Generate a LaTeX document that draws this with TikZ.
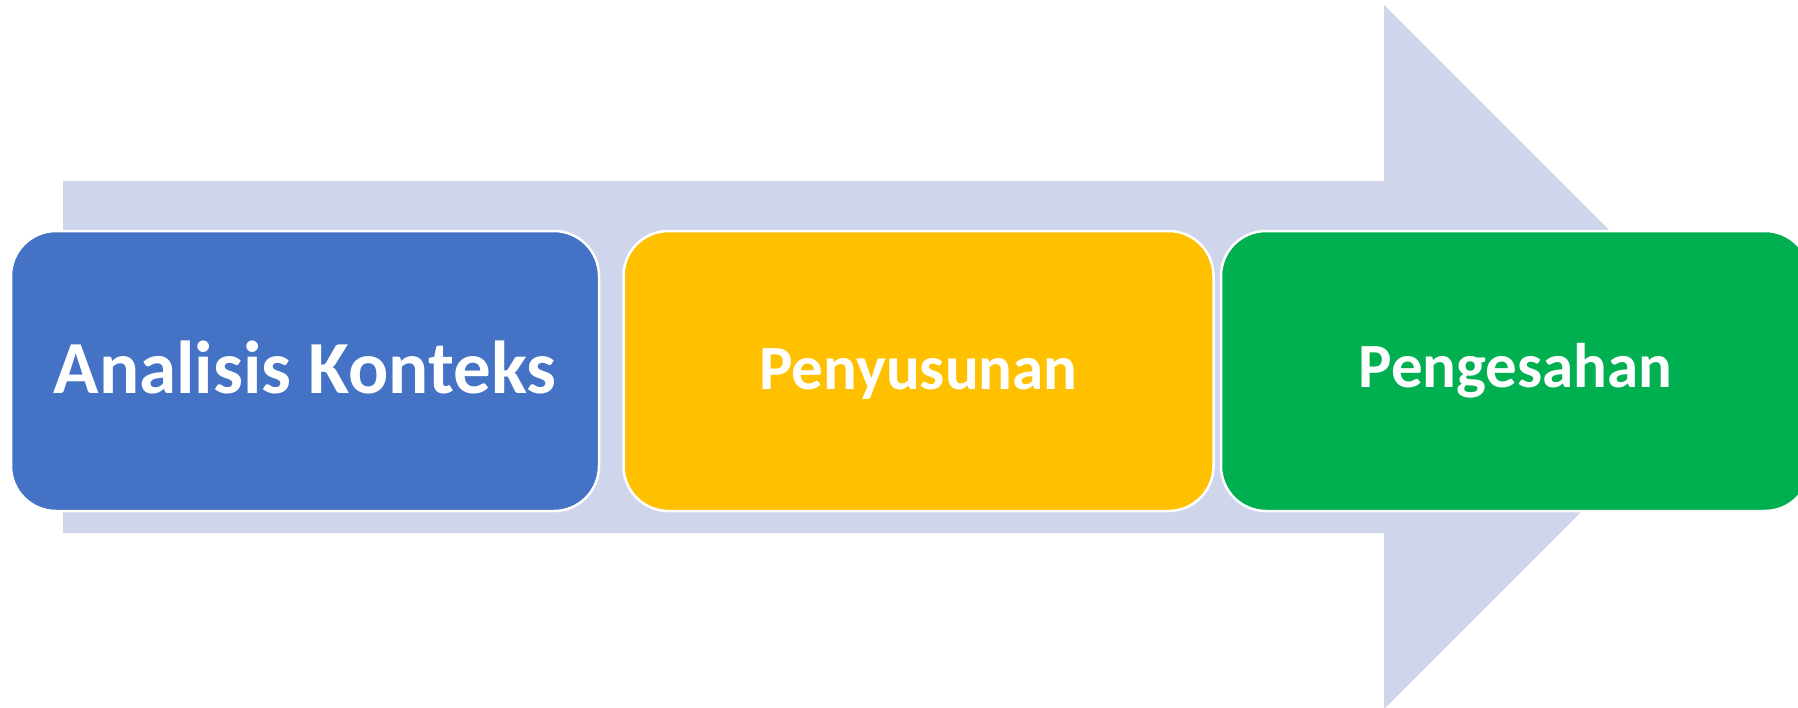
\documentclass[tikz,border=0pt]{standalone}
\usepackage{fontspec}
\setmainfont{Carlito}
\definecolor{arrowfill}{HTML}{CFD5EA}
\definecolor{boxblue}{HTML}{4472C4}
\definecolor{boxyellow}{HTML}{FFC000}
\definecolor{boxgreen}{HTML}{00B050}
\tikzset{
  stagebox/.style={draw=white, line width=2.5pt, rounded corners=45pt,
    minimum height=280pt, text=white, font=\bfseries, inner sep=0pt,
    text depth=0pt, align=center},
}
\begin{document}
\begin{tikzpicture}[x=1pt, y=-1pt]
\useasboundingbox (0,0) rectangle (1798,707);
\clip (0,0) rectangle (1798,707);
% big background arrow
\fill[arrowfill] (63,181) -- (1384,181) -- (1384,5) -- (1736,357)
  -- (1384,709) -- (1384,533) -- (63,533) -- cycle;
% stage boxes
\node[stagebox, fill=boxblue, minimum width=588pt, text height=44pt,
  font=\bfseries\fontsize{75}{80}\selectfont] (analisis) at (305,371) {Analisis Konteks};
\node[stagebox, fill=boxyellow, minimum width=590pt, text height=36pt,
  font=\bfseries\fontsize{63}{68}\selectfont] (penyusunan) at (918.5,371) {Penyusunan};
\node[stagebox, fill=boxgreen, minimum width=589pt, text height=32pt,
  font=\bfseries\fontsize{63}{68}\selectfont] (pengesahan) at (1515.5,371) {Pengesahan};
\end{tikzpicture}
\end{document}
